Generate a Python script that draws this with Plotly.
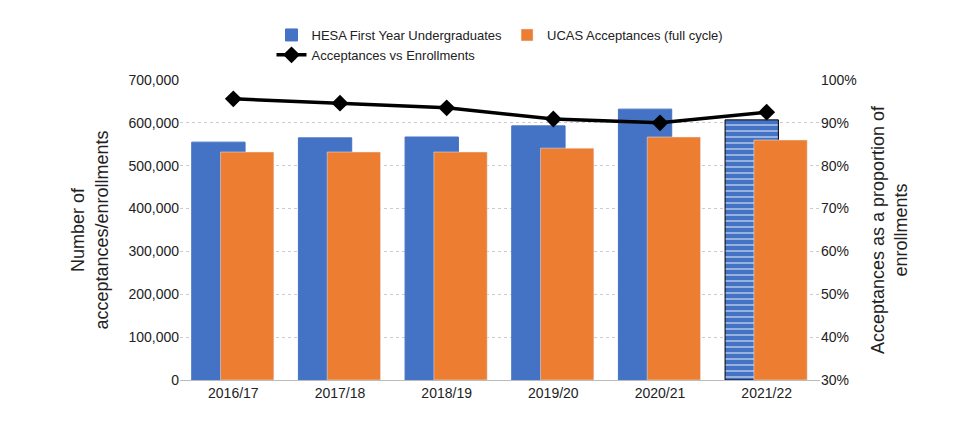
import plotly.graph_objects as go

years = ["2016/17", "2017/18", "2018/19", "2019/20", "2020/21", "2021/22"]
hesa = [555000, 565000, 567000, 593000, 632000, 607000]
ucas = [532000, 532000, 532000, 541000, 567000, 560000]
ratio = [0.956, 0.946, 0.935, 0.909, 0.900, 0.925]

fig = go.Figure()

fig.add_trace(go.Bar(
    x=years, y=hesa, name="HESA First Year Undergraduates",
    offset=-0.39, width=0.5,
    marker=dict(
        color="#4472C4",
        line=dict(color=["#4472C4"] * 5 + ["black"], width=1),
        pattern=dict(shape=[""] * 5 + ["-"], fgcolor="white", bgcolor="#4472C4",
                     size=6, solidity=0.3),
    ),
))
fig.add_trace(go.Bar(
    x=years, y=ucas, name="UCAS Acceptances (full cycle)",
    offset=-0.12, width=0.5, marker_color="#ED7D31",
))
fig.add_trace(go.Scatter(
    x=years, y=ratio, name="Acceptances vs Enrollments", yaxis="y2",
    mode="lines+markers", line=dict(color="black", width=3.5),
    marker=dict(symbol="diamond", size=13, color="black"),
))

fig.update_layout(
    width=960, height=422, barmode="overlay",
    paper_bgcolor="white", plot_bgcolor="white",
    font=dict(family="Liberation Sans, Arial", size=13, color="#222"),
    margin=dict(l=172, r=148, t=72, b=50),
    legend=dict(orientation="h", x=0.5, xanchor="center", y=1.2, yanchor="top",
                font=dict(size=13), itemwidth=30, tracegroupgap=0),
    xaxis=dict(showline=True, linecolor="#bbb", tickfont=dict(size=14)),
    yaxis=dict(range=[0, 700000], dtick=100000, tickformat=",", gridcolor="#ccc",
               griddash="dot", zeroline=False, tickfont=dict(size=14),
               title=dict(text="Number of<br>acceptances/enrollments", font=dict(size=18))),
    yaxis2=dict(range=[0.3, 1.0], dtick=0.1, tickformat=".0%", overlaying="y",
                side="right", showgrid=False, tickfont=dict(size=14),
                title=dict(text="Acceptances as a proportion of<br>enrollments", font=dict(size=18))),
)
fig.update_layout(margin=dict(b=50, t=72), height=422)
fig.update_layout(margin_b=50 + 8 - 8)

fig.write_html("out.html")
